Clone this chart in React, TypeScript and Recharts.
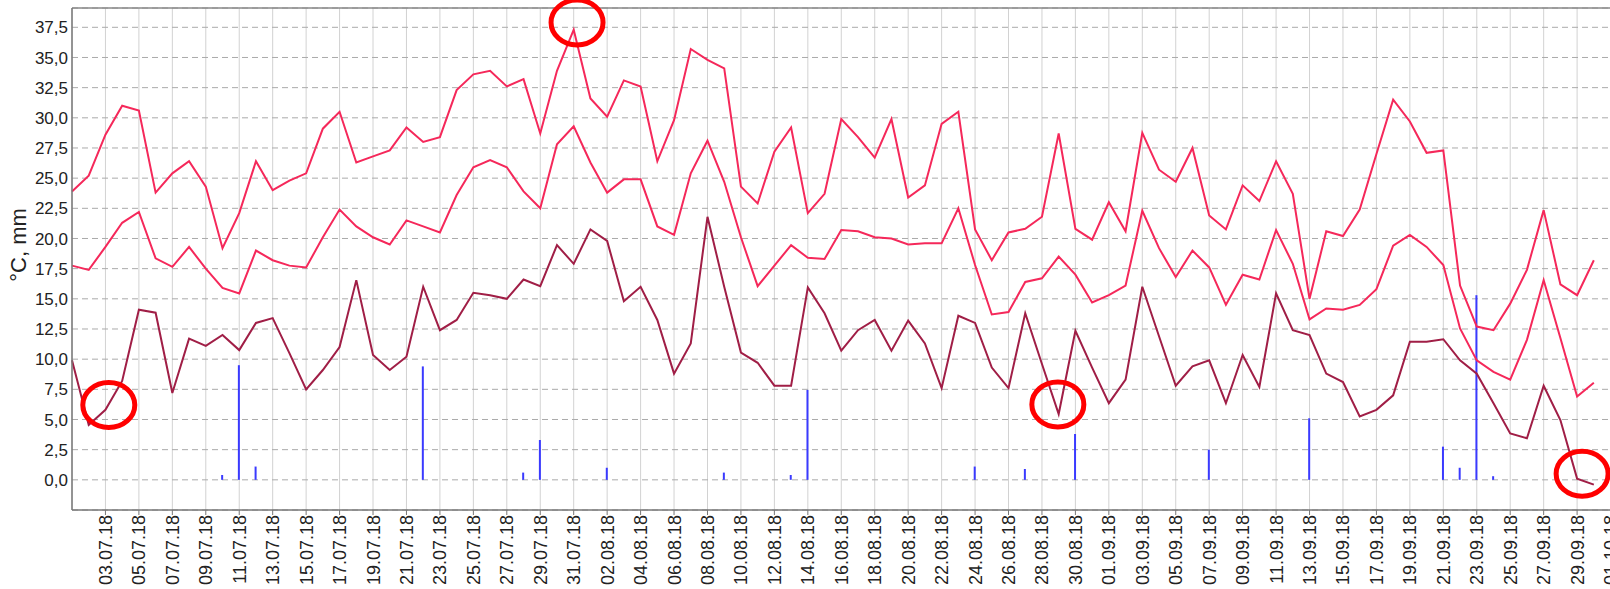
import React from 'react';
import {
  ComposedChart,
  Line,
  Bar,
  XAxis,
  YAxis,
  CartesianGrid,
  ReferenceDot,
  ReferenceLine,
} from 'recharts';

// Categories: days 01.07.18 .. 30.09.18 (plus 01.10.18 for the last tick)
const dates = [
  '01.07.18', '02.07.18', '03.07.18', '04.07.18', '05.07.18', '06.07.18', '07.07.18', '08.07.18', '09.07.18', '10.07.18',
  '11.07.18', '12.07.18', '13.07.18', '14.07.18', '15.07.18', '16.07.18', '17.07.18', '18.07.18', '19.07.18', '20.07.18',
  '21.07.18', '22.07.18', '23.07.18', '24.07.18', '25.07.18', '26.07.18', '27.07.18', '28.07.18', '29.07.18', '30.07.18',
  '31.07.18', '01.08.18', '02.08.18', '03.08.18', '04.08.18', '05.08.18', '06.08.18', '07.08.18', '08.08.18', '09.08.18',
  '10.08.18', '11.08.18', '12.08.18', '13.08.18', '14.08.18', '15.08.18', '16.08.18', '17.08.18', '18.08.18', '19.08.18',
  '20.08.18', '21.08.18', '22.08.18', '23.08.18', '24.08.18', '25.08.18', '26.08.18', '27.08.18', '28.08.18', '29.08.18',
  '30.08.18', '31.08.18', '01.09.18', '02.09.18', '03.09.18', '04.09.18', '05.09.18', '06.09.18', '07.09.18', '08.09.18',
  '09.09.18', '10.09.18', '11.09.18', '12.09.18', '13.09.18', '14.09.18', '15.09.18', '16.09.18', '17.09.18', '18.09.18',
  '19.09.18', '20.09.18', '21.09.18', '22.09.18', '23.09.18', '24.09.18', '25.09.18', '26.09.18', '27.09.18', '28.09.18',
  '29.09.18', '30.09.18', '01.10.18',
];

const tMax = [
  23.9, 25.2, 28.6, 31.0, 30.6, 23.8, 25.4, 26.4, 24.3, 19.2,
  22.1, 26.4, 24.0, 24.8, 25.4, 29.1, 30.5, 26.3, 26.8, 27.3,
  29.2, 28.0, 28.4, 32.3, 33.6, 33.9, 32.6, 33.2, 28.7, 33.9,
  37.3, 31.6, 30.1, 33.1, 32.6, 26.4, 29.8, 35.7, 34.8, 34.1,
  24.3, 22.9, 27.2, 29.2, 22.1, 23.7, 29.9, 28.4, 26.7, 29.9,
  23.4, 24.4, 29.5, 30.5, 20.75, 18.2, 20.5, 20.8, 21.8, 28.7,
  20.8, 19.9, 23.0, 20.6, 28.75, 25.7, 24.7, 27.5, 21.9, 20.75,
  24.4, 23.1, 26.4, 23.7, 15.0, 20.6, 20.2, 22.4, 27.0, 31.5,
  29.7, 27.1, 27.3, 16.1, 12.7, 12.4, 14.6, 17.4, 22.35, 16.2,
  15.3, 18.2,
];

const tMean = [
  17.75, 17.4, 19.3, 21.3, 22.2, 18.35, 17.65, 19.3, 17.5, 15.9,
  15.45, 19.0, 18.2, 17.75, 17.6, 20.1, 22.4, 21.0, 20.1, 19.5,
  21.5, 21.0, 20.5, 23.6, 25.9, 26.5, 25.9, 23.9, 22.5, 27.8,
  29.3, 26.3, 23.8, 24.9, 24.9, 21.0, 20.3, 25.4, 28.1, 24.7,
  20.1, 16.05, 17.75, 19.45, 18.4, 18.3, 20.7, 20.6, 20.1, 20.0,
  19.5, 19.6, 19.6, 22.5, 17.8, 13.7, 13.9, 16.4, 16.7, 18.5,
  17.0, 14.7, 15.3, 16.1, 22.3, 19.2, 16.8, 19.0, 17.6, 14.5,
  17.0, 16.6, 20.7, 17.9, 13.3, 14.2, 14.1, 14.5, 15.8, 19.4,
  20.3, 19.3, 17.8, 12.55, 9.9, 8.95, 8.3, 11.6, 16.55, 11.75,
  6.9, 8.05,
];

const tMin = [
  9.9, 4.55, 5.8, 8.2, 14.1, 13.85, 7.2, 11.7, 11.1, 12.0,
  10.75, 13.0, 13.4, 10.5, 7.5, 9.1, 11.0, 16.55, 10.35, 9.1,
  10.2, 16.0, 12.4, 13.25, 15.5, 15.3, 15.0, 16.6, 16.05, 19.45,
  17.9, 20.75, 19.8, 14.8, 16.0, 13.25, 8.8, 11.3, 21.8, 16.0,
  10.55, 9.7, 7.8, 7.8, 15.95, 13.8, 10.7, 12.4, 13.25, 10.7,
  13.2, 11.3, 7.6, 13.6, 13.0, 9.3, 7.6, 13.8, 9.6, 5.45,
  12.35, 9.3, 6.35, 8.3, 16.0, 11.9, 7.8, 9.4, 9.9, 6.35,
  10.35, 7.7, 15.45, 12.4, 12.0, 8.8, 8.1, 5.25, 5.8, 7.0,
  11.45, 11.45, 11.65, 9.9, 8.8, 6.35, 3.85, 3.45, 7.8, 4.95,
  0.1, -0.4,
];

const precip = [
  0, 0, 0, 0, 0, 0, 0, 0, 0, 0.4,
  9.5, 1.1, 0, 0, 0, 0, 0, 0, 0, 0,
  0, 9.4, 0, 0, 0, 0, 0, 0.6, 3.3, 0,
  0, 0, 1.0, 0, 0, 0, 0, 0, 0, 0.6,
  0, 0, 0, 0.4, 7.45, 0, 0, 0, 0, 0,
  0, 0, 0, 0, 1.1, 0, 0, 0.9, 0, 0,
  3.8, 0, 0, 0, 0, 0, 0, 0, 2.5, 0,
  0, 0, 0, 0, 5.1, 0, 0, 0, 0, 0,
  0, 0, 2.75, 1.0, 15.3, 0.3, 0, 0, 0, 0,
  0, 0,
];

// tick labels: every second day starting 03.07.18
const xTickDays = [
  2, 4, 6, 8, 10, 12, 14, 16, 18, 20, 22, 24, 26, 28, 30, 32, 34, 36, 38, 40, 42, 44, 46,
  48, 50, 52, 54, 56, 58, 60, 62, 64, 66, 68, 70, 72, 74, 76, 78, 80, 82, 84, 86, 88, 90, 92,
];
const yTicks = [0, 2.5, 5, 7.5, 10, 12.5, 15, 17.5, 20, 22.5, 25, 27.5, 30, 32.5, 35, 37.5];

// red annotation ellipses (day index, value)
const markDays = [2.2, 30.2, 58.95, 90.3];
const markValues = [6.2, 37.9, 6.25, 0.5];

const data = tMax.map((v, i) => ({
  day: i,
  date: dates[i],
  tmax: v,
  tmean: tMean[i],
  tmin: tMin[i],
  precip: precip[i] > 0 ? precip[i] : null,
}));

const FONT = '"Liberation Sans", Arial, sans-serif';

const XTick = (props: any) => {
  const { x, y, payload } = props;
  return (
    <g transform={`translate(${x},${y})`}>
      <text
        transform="rotate(-90)"
        x={0}
        y={0}
        dy="0.36em"
        textAnchor="end"
        fontSize={18}
        fontFamily={FONT}
        fill="#222"
      >
        {dates[payload.value]}
      </text>
    </g>
  );
};

const Ellipse = (props: any) => {
  const { cx, cy } = props;
  return <ellipse cx={cx} cy={cy} rx={26} ry={22.5} fill="none" stroke="#ff0000" strokeWidth={5} />;
};

export default function App() {
  return (
    <div
      style={{
        position: 'absolute',
        left: 0,
        top: 0,
        width: 1610,
        height: 589,
        overflow: 'hidden',
        background: '#fff',
      }}
    >
      <ComposedChart
        width={1644}
        height={589}
        data={data}
        margin={{ top: 8, right: 0, bottom: 0, left: 0 }}
      >
        <CartesianGrid horizontal={false} vertical stroke="#d2d2d2" />
        <CartesianGrid vertical={false} horizontal stroke="#aaaaaa" strokeDasharray="6 4" />
        <XAxis
          dataKey="day"
          type="number"
          domain={[0, 94]}
          ticks={xTickDays}
          interval={0}
          tick={<XTick />}
          tickSize={5}
          tickMargin={0}
          height={79}
          stroke="#777"
          axisLine={{ stroke: '#777', strokeWidth: 1.5 }}
          tickLine={{ stroke: '#777' }}
        />
        <YAxis
          type="number"
          domain={[-2.5, 39.1]}
          ticks={yTicks}
          interval={0}
          width={72}
          tickLine={false}
          tickSize={0}
          tickMargin={4}
          axisLine={{ stroke: '#777', strokeWidth: 1.5 }}
          tickFormatter={(v: number) => v.toFixed(1).replace('.', ',')}
          tick={{ fontSize: 17, fontFamily: FONT, fill: '#222' }}
          label={{
            content: () => (
              <text
                x={18}
                y={245}
                transform="rotate(-90 18 245)"
                textAnchor="middle"
                dominantBaseline="central"
                fontSize={22}
                fontFamily={FONT}
                fill="#222"
              >
                °C, mm
              </text>
            ),
          }}
        />
        <ReferenceLine y={39.1} stroke="#888" strokeWidth={1.5} ifOverflow="visible" />
        <Line type="linear" dataKey="tmax" stroke="#f5285a" strokeWidth={2} dot={false} isAnimationActive={false} />
        <Line type="linear" dataKey="tmean" stroke="#f5285a" strokeWidth={2} dot={false} isAnimationActive={false} />
        <Line type="linear" dataKey="tmin" stroke="#a01e46" strokeWidth={2} dot={false} isAnimationActive={false} />
        <Bar dataKey="precip" fill="#3a3aff" barSize={2} isAnimationActive={false} />
        {markDays.map((d, i) => (
          <ReferenceDot
            key={i}
            x={d}
            y={markValues[i]}
            r={20}
            ifOverflow="visible"
            shape={<Ellipse />}
          />
        ))}
      </ComposedChart>
    </div>
  );
}
